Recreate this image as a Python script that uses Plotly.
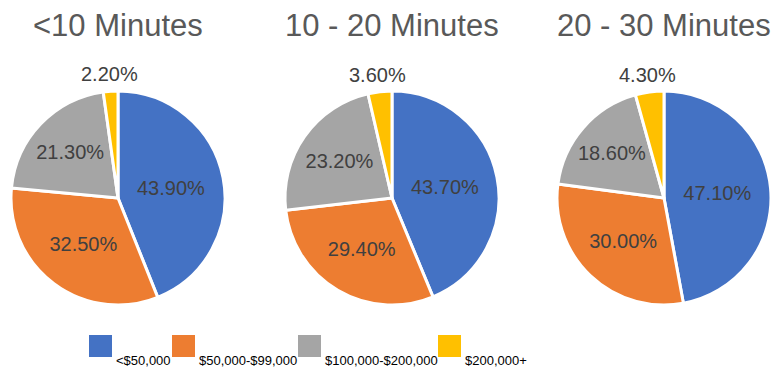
import math
import plotly.graph_objects as go

W, H = 777, 373

categories = ["<$50,000", "$50,000-$99,000", "$100,000-$200,000", "$200,000+"]
colors = ["#4472C4", "#ED7D31", "#A5A5A5", "#FFC000"]
titles = ["<10 Minutes", "10 - 20 Minutes", "20 - 30 Minutes"]
values_lt10 = [43.9, 32.5, 21.3, 2.2]
values_10_20 = [43.7, 29.4, 23.2, 3.6]
values_20_30 = [47.1, 30.0, 18.6, 4.3]
series = [values_lt10, values_10_20, values_20_30]

centers_x = [118, 392, 664]
center_y = 198
radius = 107
FONT = "Liberation Sans, Arial"

fig = go.Figure()
for i, vals in enumerate(series):
    cx = centers_x[i]
    fig.add_trace(go.Pie(
        labels=categories,
        values=vals,
        sort=False,
        direction="clockwise",
        rotation=0,
        marker=dict(colors=colors, line=dict(color="white", width=3)),
        texttemplate="%{value:.2f}%",
        textposition=["inside", "inside", "inside", "none"],
        insidetextorientation="horizontal",
        textfont=dict(family=FONT, size=20, color="#404040"),
        hoverinfo="label+value",
        showlegend=False,
        domain=dict(x=[(cx - radius) / W, (cx + radius) / W],
                    y=[(H - center_y - radius) / H, (H - center_y + radius) / H]),
    ))
    # outside label for the small last slice, placed along its mid-angle
    total = sum(vals)
    mid = (sum(vals[:-1]) + vals[-1] / 2) / total * 2 * math.pi
    rr = radius + 17
    lx = cx + rr * math.sin(mid)
    ly = center_y - rr * math.cos(mid)
    fig.add_annotation(
        x=lx / W, y=(H - ly) / H, xref="paper", yref="paper",
        text=f"{vals[-1]:.2f}%", showarrow=False, xanchor="center", yanchor="middle",
        font=dict(family=FONT, size=20, color="#404040"),
    )
    fig.add_annotation(
        x=cx / W, y=(H - 25) / H, xref="paper", yref="paper",
        text=titles[i], showarrow=False, xanchor="center", yanchor="middle",
        font=dict(family=FONT, size=31, color="#595959"),
    )

# legend drawn with swatches and labels
sw_x = [89, 172, 298, 438]
for j, cat in enumerate(categories):
    x0 = sw_x[j]
    fig.add_shape(type="rect", xref="paper", yref="paper",
                  x0=x0 / W, x1=(x0 + 23) / W,
                  y0=(H - 357) / H, y1=(H - 335) / H,
                  fillcolor=colors[j], line=dict(width=0))
    fig.add_annotation(
        x=(x0 + 25) / W, y=(H - 360) / H, xref="paper", yref="paper",
        text=cat, showarrow=False, xanchor="left", yanchor="middle",
        font=dict(family=FONT, size=13, color="#000000"),
    )

fig.update_layout(
    width=W, height=H,
    margin=dict(l=0, r=0, t=0, b=0),
    paper_bgcolor="white",
    plot_bgcolor="white",
)

fig.write_html("out.html")
